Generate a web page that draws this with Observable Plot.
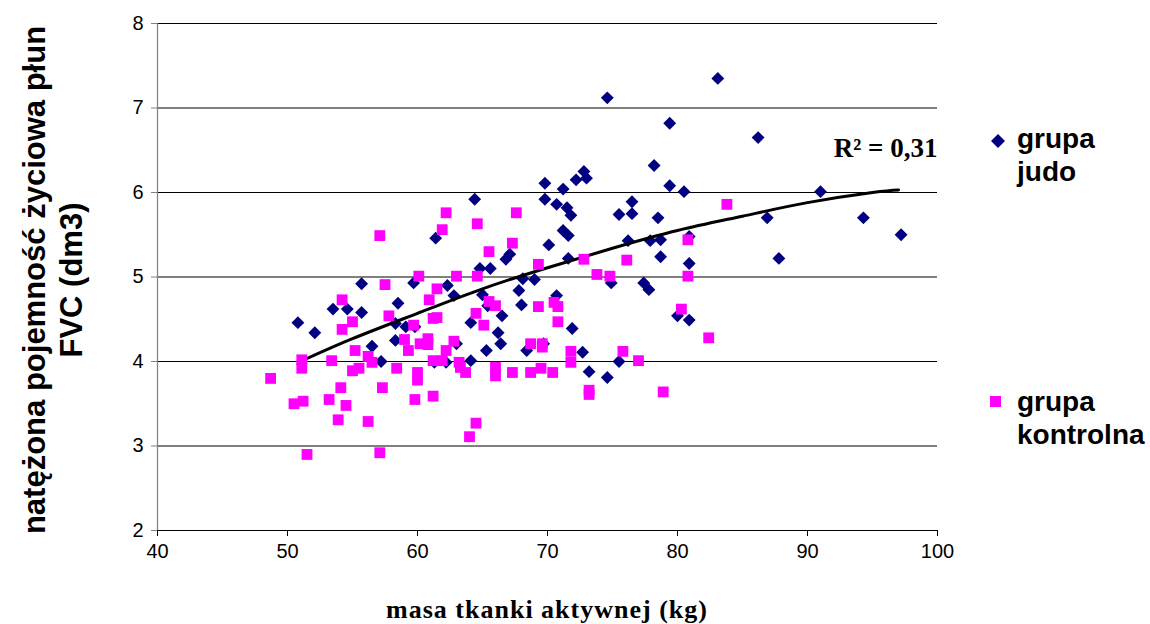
<!DOCTYPE html>
<html>
<head>
<meta charset="utf-8">
<script src="https://cdn.jsdelivr.net/npm/d3@7"></script>
<script src="https://cdn.jsdelivr.net/npm/@observablehq/plot@0.6"></script>
<style>
  html, body { margin: 0; padding: 0; background: #fff; }
  #wrap { position: relative; width: 1150px; height: 624px; overflow: hidden; font-family: "Liberation Sans", Arial, sans-serif; }
  #chart { position: absolute; left: 0; top: 0; }
  .ytitle { position: absolute; left: 53px; top: 280px; transform: translate(-50%, -50%) rotate(-90deg);
            white-space: nowrap; text-align: center; font-weight: bold; font-size: 31px; line-height: 37px; color: #000; }
  .xtitle { position: absolute; left: 547px; top: 595px; transform: translateX(-50%); white-space: nowrap;
            font-family: "Liberation Serif", "Times New Roman", serif; font-weight: bold; font-size: 26px; letter-spacing: 1px; color: #000; }
  .leg { position: absolute; left: 1017px; font-weight: bold; font-size: 28px; line-height: 33px; color: #000; }
  .legsym { position: absolute; }
</style>
</head>
<body>
<div id="wrap">
  <div id="chart"></div>
  <div class="ytitle">natężona pojemność życiowa płun<br>FVC (dm3)</div>
  <div class="xtitle">masa tkanki aktywnej (kg)</div>
  <svg class="legsym" style="left:988px;top:131px" width="20" height="20"><path d="M10,3 L17,10 L10,17 L3,10 Z" fill="#000080"/></svg>
  <div class="leg" style="top:122px">grupa<br>judo</div>
  <svg class="legsym" style="left:990px;top:396px" width="12" height="12"><rect x="0" y="0" width="11" height="11" fill="#FF00FF"/></svg>
  <div class="leg" style="top:385px">grupa<br>kontrolna</div>
</div>
<script>
// ---- data ----
const seriesNames = ["grupa judo", "grupa kontrolna"];

const judoX = [50.8,52.1,53.5,54.6,55.7,55.7,56.5,57.2,58.5,58.3,58.3,59.1,59.8,59.7,61.4,62.3,62.8,63.0,61.3,62.2,
  64.1,64.1,64.4,64.8,65.6,65.0,65.4,66.5,66.2,66.4,65.3,66.8,67.1,67.8,68.0,68.1,68.4,69.0,69.8,69.8,
  71.2,70.7,71.5,71.8,72.2,72.8,73.0,71.2,71.6,70.1,71.6,70.7,71.9,69.7,72.7,73.2,74.6,75.5,74.9,77.4,
  77.8,75.5,76.5,76.5,76.2,78.2,78.5,78.7,83.1,79.4,86.2,74.6,79.4,80.5,77.9,78.7,80.9,80.9,80.0,80.9,
  86.9,87.8,91.0,94.3,97.2];
const judoY = [4.46,4.34,4.62,4.62,4.58,4.92,4.18,4.00,4.69,4.45,4.25,4.41,4.41,4.93,5.46,4.90,4.78,4.21,3.99,3.99,
  4.46,4.01,5.92,5.10,5.10,4.79,4.66,4.54,4.34,4.21,4.13,5.21,5.27,4.84,4.67,4.98,4.13,4.97,6.11,5.92,
  6.04,5.86,5.82,5.73,6.15,6.25,6.17,5.55,5.49,5.38,5.22,4.78,4.39,4.21,4.11,3.88,3.81,4.00,4.93,4.93,
  4.85,5.74,5.89,5.75,5.43,6.32,5.70,5.24,7.35,6.82,6.65,7.12,6.08,6.01,5.43,5.44,5.48,5.16,4.54,4.49,
  5.70,5.22,6.01,5.70,5.50];

const kontrolX = [48.7,51.1,51.1,50.5,51.2,51.5,53.4,54.1,53.2,54.5,53.9,54.2,55.0,54.2,55.2,56.2,56.5,55.0,55.5,56.2,
  57.3,57.1,57.5,57.8,58.4,57.1,62.2,61.9,60.1,61.5,60.9,61.2,61.5,59.7,59.0,59.3,60.2,60.8,60.8,62.8,
  62.2,61.2,61.9,63.2,63.3,63.7,60.0,60.0,59.8,61.2,63.0,64.6,64.6,67.6,67.3,65.5,65.5,66.0,64.5,65.1,
  64.5,64.0,66.0,66.0,67.3,68.7,68.7,69.3,72.8,73.8,74.8,76.1,69.3,70.5,70.8,70.8,69.6,69.6,71.8,71.8,
  69.5,70.4,73.2,73.2,75.8,77.0,78.9,83.8,80.8,80.8,80.3,82.4];
const kontrolY = [3.80,4.02,3.92,3.50,3.53,2.90,4.01,3.69,3.55,3.48,3.31,4.73,4.47,4.38,4.13,4.06,3.99,3.89,3.92,3.29,
  3.69,2.92,4.91,4.54,3.92,5.49,5.76,5.56,5.01,4.86,4.73,4.51,4.52,4.43,4.26,4.13,4.21,4.27,4.20,4.24,
  4.13,4.01,4.01,3.99,3.93,3.87,3.87,3.78,3.55,3.59,5.01,5.01,5.63,5.76,5.40,5.30,4.71,4.66,4.57,4.43,
  3.27,3.11,3.93,3.83,3.87,3.87,4.21,5.15,5.21,5.03,5.01,5.20,4.65,4.70,4.65,4.47,4.21,4.17,4.12,3.99,
  3.92,3.87,3.66,3.61,4.12,4.01,3.64,5.86,5.44,5.01,4.62,4.28];

// trend line (judo)
const trendX = [51, 55, 60, 65, 70, 75, 80, 85, 90, 95, 97];
const trendY = [4.00, 4.27, 4.57, 4.86, 5.11, 5.34, 5.55, 5.72, 5.88, 6.00, 6.03];
const r2Label = ["R² = 0,31"];

const xTicks = [40, 50, 60, 70, 80, 90, 100];
const yTicks = [2, 3, 4, 5, 6, 7, 8];

// ---- build tables ----
const judo = judoX.map((x, i) => ({x, y: judoY[i], s: seriesNames[0]}));
const kontrol = kontrolX.map((x, i) => ({x, y: kontrolY[i], s: seriesNames[1]}));
const trend = trendX.map((x, i) => ({x, y: trendY[i]}));

const chart = Plot.plot({
  width: 1150,
  height: 624,
  marginLeft: 157,
  marginRight: 213,
  marginTop: 23,
  marginBottom: 94,
  style: {fontFamily: "'Liberation Sans', Arial, sans-serif", color: "#000", background: "#fff"},
  x: {domain: [40, 100]},
  y: {domain: [2, 8]},
  marks: [
    Plot.gridY(yTicks.slice(1), {stroke: "#000", strokeOpacity: 1, strokeWidth: 1}),
    Plot.ruleX([40], {stroke: "#808080", strokeWidth: 1.2}),
    Plot.ruleY([2], {stroke: "#000", strokeWidth: 1.2}),
    Plot.axisY({ticks: yTicks, tickFormat: d => String(d), tickSize: 6, tickPadding: 8, fontSize: 20, label: null, stroke: "#808080"}),
    Plot.axisX({ticks: xTicks, tickFormat: d => String(d), tickSize: 6, tickPadding: 7, fontSize: 20, label: null, stroke: "#000"}),
    Plot.dot(judo, {x: "x", y: "y", symbol: "diamond2", r: 5.8, fill: "#000080", stroke: "none"}),
    Plot.line(trend, {x: "x", y: "y", stroke: "#000", strokeWidth: 3, curve: "natural"}),
    Plot.dot(kontrol, {x: "x", y: "y", symbol: "square", r: 6.1, fill: "#FF00FF", stroke: "none"}),
    Plot.text(r2Label, {x: () => 100, y: () => 6.52, text: d => d, textAnchor: "end",
      fontFamily: "'Liberation Serif', 'Times New Roman', serif", fontWeight: "bold", fontSize: 27, fill: "#000"})
  ]
});
document.getElementById("chart").appendChild(chart);
</script>
</body>
</html>
